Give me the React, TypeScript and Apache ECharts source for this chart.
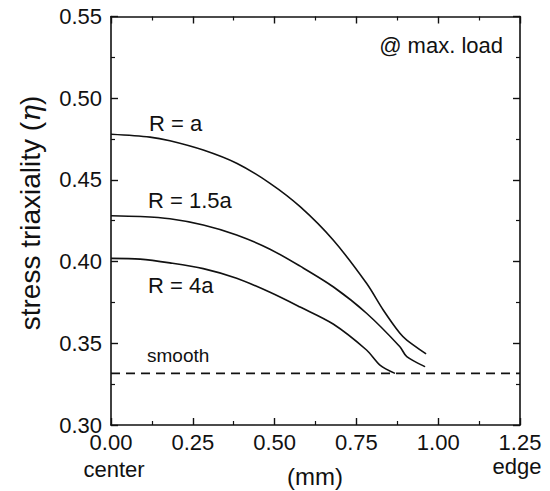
import React, { useEffect, useRef } from "react";
import * as echarts from "echarts";

// Data (x in mm, y = stress triaxiality)
const xTicks = [0, 0.25, 0.5, 0.75, 1.0, 1.25];
const yTicks = [0.3, 0.35, 0.4, 0.45, 0.5, 0.55];

const seriesNames = ["R = a", "R = 1.5a", "R = 4a", "smooth"];

const rA: [number, number][] = [
  [0, 0.4779], [0.119, 0.4762], [0.18, 0.474], [0.282, 0.4683], [0.384, 0.4602],
  [0.486, 0.4479], [0.578, 0.4336], [0.679, 0.4132], [0.781, 0.3867], [0.832, 0.3704],
  [0.883, 0.3561], [0.904, 0.352], [0.963, 0.3435],
];
const r15A: [number, number][] = [
  [0, 0.4281], [0.089, 0.4276], [0.18, 0.4262], [0.282, 0.4224], [0.384, 0.4163],
  [0.486, 0.4076], [0.578, 0.3972], [0.679, 0.3846], [0.781, 0.3684], [0.883, 0.3479],
  [0.904, 0.3418], [0.96, 0.3357],
];
const r4A: [number, number][] = [
  [0, 0.402], [0.089, 0.4015], [0.18, 0.3992], [0.282, 0.3957], [0.384, 0.3898],
  [0.486, 0.3812], [0.578, 0.3722], [0.679, 0.3618], [0.781, 0.3459], [0.822, 0.3367],
  [0.868, 0.3316],
];
const smoothLevel = 0.3316;
const smoothLine: [number, number][] = [[0, smoothLevel], [1.25, smoothLevel]];

const FONT = "'Liberation Sans', Arial, sans-serif";
const INK = "#111";

export default function App() {
  const ref = useRef<HTMLDivElement>(null);
  useEffect(() => {
    document.body.style.margin = "0";
    if (!ref.current) return;
    const chart = echarts.init(ref.current, undefined, { renderer: "svg" });
    const axisCommon = {
      type: "value" as const,
      axisLine: { show: true, onZero: false, lineStyle: { color: INK, width: 1.6 } },
      axisTick: { show: true, inside: true, length: 7, lineStyle: { color: INK, width: 1.4 } },
      minorTick: { show: true, splitNumber: 2, length: 4, lineStyle: { color: INK, width: 1.2 } },
      splitLine: { show: false },
      minorSplitLine: { show: false },
    };
    const xBase = { ...axisCommon, min: xTicks[0], max: xTicks[xTicks.length - 1], interval: 0.25 };
    const yBase = { ...axisCommon, min: yTicks[0], max: yTicks[yTicks.length - 1], interval: 0.05 };
    const lineSeries = (name: string, data: [number, number][]) => ({
      name,
      type: "line" as const,
      data,
      showSymbol: false,
      smooth: 0.3,
      lineStyle: { color: INK, width: 1.6 },
      xAxisIndex: 0,
      yAxisIndex: 0,
    });
    chart.setOption({
      animation: false,
      grid: { left: 111, right: 30, top: 16.5, bottom: 66 },
      xAxis: [
        {
          ...xBase,
          position: "bottom",
          axisLabel: {
            show: true,
            margin: 6,
            fontSize: 22,
            fontFamily: FONT,
            color: INK,
            formatter: (v: number) => v.toFixed(2),
          },
        },
        { ...xBase, position: "top", axisLabel: { show: false } },
      ],
      yAxis: [
        {
          ...yBase,
          position: "left",
          axisLabel: {
            show: true,
            margin: 9,
            fontSize: 22,
            fontFamily: FONT,
            color: INK,
            formatter: (v: number) => v.toFixed(2),
          },
        },
        { ...yBase, position: "right", axisLabel: { show: false } },
      ],
      series: [
        lineSeries(seriesNames[0], rA),
        lineSeries(seriesNames[1], r15A),
        lineSeries(seriesNames[2], r4A),
        {
          ...lineSeries(seriesNames[3], smoothLine),
          smooth: false,
          lineStyle: { color: INK, width: 1.6, type: [9, 6] },
        },
      ],
      graphic: [
        {
          type: "text",
          x: 30,
          y: 213,
          rotation: Math.PI / 2,
          style: {
            text: "stress triaxiality ({e|η})",
            fontSize: 28,
            fontFamily: FONT,
            fill: INK,
            align: "center",
            verticalAlign: "middle",
            rich: {
              e: { fontSize: 28, fontStyle: "italic", fontFamily: "'DejaVu Serif', serif", fill: INK },
            },
          },
        },
        { type: "text", x: 503, y: 45, style: { text: "@ max. load", fontSize: 22, fontFamily: FONT, fill: INK, align: "right", verticalAlign: "middle" } },
        { type: "text", x: 149, y: 123, style: { text: seriesNames[0], fontSize: 22, fontFamily: FONT, fill: INK, align: "left", verticalAlign: "middle" } },
        { type: "text", x: 148, y: 200, style: { text: seriesNames[1], fontSize: 22, fontFamily: FONT, fill: INK, align: "left", verticalAlign: "middle" } },
        { type: "text", x: 148, y: 285, style: { text: seriesNames[2], fontSize: 22, fontFamily: FONT, fill: INK, align: "left", verticalAlign: "middle" } },
        { type: "text", x: 147, y: 355, style: { text: "smooth", fontSize: 19, fontFamily: FONT, fill: INK, align: "left", verticalAlign: "middle" } },
        { type: "text", x: 114, y: 469, style: { text: "center", fontSize: 22, fontFamily: FONT, fill: INK, align: "center", verticalAlign: "middle" } },
        { type: "text", x: 517, y: 466, style: { text: "edge", fontSize: 22, fontFamily: FONT, fill: INK, align: "center", verticalAlign: "middle" } },
        { type: "text", x: 315, y: 476, style: { text: "(mm)", fontSize: 24, fontFamily: FONT, fill: INK, align: "center", verticalAlign: "middle" } },
      ],
    });
    return () => chart.dispose();
  }, []);
  return <div ref={ref} style={{ width: 550, height: 491 }} />;
}
